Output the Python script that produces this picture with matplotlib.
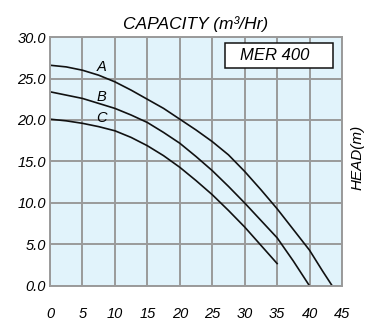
import numpy as np
import matplotlib.pyplot as plt
from matplotlib.patches import Rectangle

plt.rcParams['font.family'] = ['Liberation Sans', 'DejaVu Sans']

# Curvas (vazão m3/h, altura m)
q_a = [0, 2.5, 5, 7.5, 10, 12.5, 15, 17.5, 20, 22.5, 25, 27.5, 30, 32.5, 35, 37.5, 40, 42, 43.5]
h_a = [26.6, 26.4, 26.0, 25.4, 24.6, 23.6, 22.5, 21.4, 20.1, 18.8, 17.4, 15.8, 13.8, 11.6, 9.3, 6.8, 4.3, 1.8, 0.0]
q_b = [0, 2.5, 5, 7.5, 10, 12.5, 15, 17.5, 20, 22.5, 25, 27.5, 30, 32.5, 35, 37.5, 40]
h_b = [23.4, 23.0, 22.6, 22.0, 21.4, 20.6, 19.7, 18.5, 17.2, 15.6, 13.9, 12.0, 10.0, 7.9, 5.8, 3.0, 0.0]
q_c = [0, 2.5, 5, 7.5, 10, 12.5, 15, 17.5, 20, 22.5, 25, 27.5, 30, 32.5, 35]
h_c = [20.1, 19.9, 19.6, 19.2, 18.7, 17.9, 16.9, 15.7, 14.3, 12.7, 11.0, 9.1, 7.1, 4.9, 2.7]

curvas = [('A', q_a, h_a, 26.4), ('B', q_b, h_b, 22.8), ('C', q_c, h_c, 20.3)]
xticks = np.arange(0, 46, 5)
yticks = np.arange(0, 31, 5)

fig = plt.figure(figsize=(3.65, 3.22), dpi=100)
ax = fig.add_axes([0.137, 0.112, 0.8, 0.773])
ax.set_facecolor('#e1f3fb')

for nome, q, h, ylab in curvas:
    ax.plot(q, h, color='#111111', lw=1.2)
    ax.text(8.0, ylab, nome, fontsize=10.5, style='italic', ha='center', va='center')

ax.set_xlim(0, 45)
ax.set_ylim(0, 30)
ax.set_xticks(xticks)
ax.set_yticks(yticks)
ax.set_xticklabels([str(v) for v in xticks], style='italic', fontsize=10.5)
ax.set_yticklabels([f'{v:.1f}' for v in yticks], style='italic', fontsize=10.5)
ax.tick_params(length=0)
ax.tick_params(axis='y', pad=3)
ax.tick_params(axis='x', pad=15)
ax.grid(color='#9a9a9a', lw=1.4)
ax.set_axisbelow(True)
for s in ax.spines.values():
    s.set_color('#9a9a9a')
    s.set_linewidth(1.4)

ax.set_title('CAPACITY (m³/Hr)', style='italic', fontsize=12.5, pad=6)
ax.text(1.052, 0.515, 'HEAD(m)', transform=ax.transAxes, rotation=90,
        style='italic', fontsize=11, ha='center', va='center')

# caixa do modelo
ax.add_patch(Rectangle((27.0, 26.3), 16.6, 3.0, fc='white', ec='#111111', lw=1.1, zorder=3))
ax.text(29.3, 27.8, 'MER 400', fontsize=12, style='italic', ha='left', va='center', zorder=4)

fig.savefig('out.png', dpi=100)
